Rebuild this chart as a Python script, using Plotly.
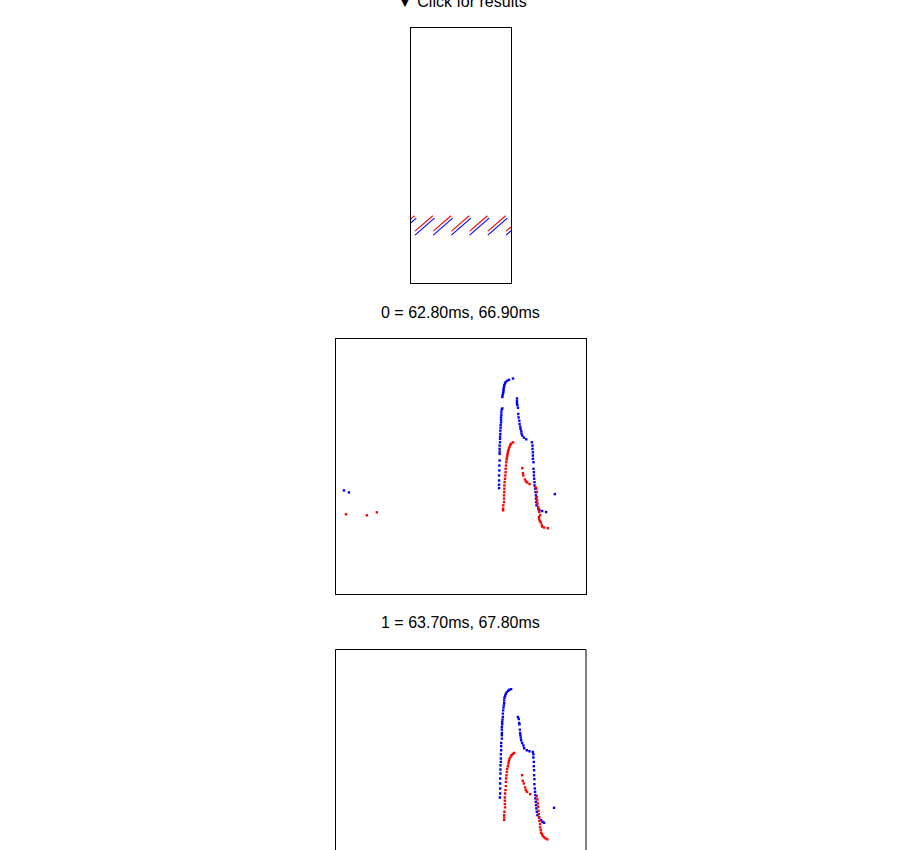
import plotly.graph_objects as go

W, H = 899, 850

# ---------- Panel 0 (top): diagonal stroke pairs ----------
stroke_starts = [-14.4, 4.0, 22.4, 40.8, 59.2, 77.6, 96.0]
red_stroke = {"y0": 52.0, "dx": 18.0, "dy": 15.5}
blue_stroke = {"y0": 48.0, "dx": 19.7, "dy": 17.2}

# ---------- Panel 1: "0 = 62.80ms, 66.90ms" ----------
p1_blue_x = [8, 13,
             177.7, 173.7, 171.7, 170.3, 169.7, 169, 168.7, 168.3, 168.3, 168, 167.7, 167.3, 167,
             167, 166.3, 166, 166, 165.7, 165.7, 165.7, 165.3, 165.3, 165, 165, 164.7, 164.7, 164.7,
             164.3, 164.3, 164.3, 164.3, 164.3, 164, 164, 163.7, 163.7, 163.7, 163.7,
             181.7, 181.7, 181.7, 182, 182.7, 183, 183.3, 184, 184.3, 185, 185.3, 186, 186.3, 187,
             188.7, 191, 196.7, 197.3, 197.3, 197.7, 197.7, 197.7, 198.3, 198.3, 198.7, 198.7, 199,
             199.3, 199.3, 200, 200.3, 200.7, 200.7, 201, 201.3, 203, 204.3, 207, 211,
             219.7]
p1_blue_y = [104, 102,
             216.3, 215, 214, 212.7, 211.3, 209.7, 208, 206.3, 204.7, 203, 201.3, 199.7, 197.7,
             186.3, 185, 182.3, 179.7, 177.3, 175, 172.3, 169.7, 167, 164, 160.7, 158, 155.7, 152.3,
             149, 145.7, 143, 140.7, 134, 129, 124, 119, 114, 109.7, 106.3,
             196.3, 194, 191.7, 189.7, 187, 180.7, 177.3, 174, 170.7, 168, 165.7, 163.3, 161, 159,
             157, 155.3, 152.3, 149, 145.7, 142.3, 139, 135.7, 132.3, 125.7, 122.3, 119, 115.7,
             112.3, 109, 105.7, 102.3, 99, 95.7, 92.3, 89, 85.7, 84.3, 83.3, 82.3,
             100.3]
p1_red_x = [10, 31, 41,
            177.7, 176, 175, 174.3, 173.7, 173, 172.7, 172.3, 172, 171.7, 171.3, 171, 170.7, 170.3,
            170.3, 170, 169.7, 169.3, 169, 169, 169, 168.7, 168.7, 168.7, 168, 167.7, 167.7,
            187, 187.7, 188, 189.7, 190.7, 192, 194.3, 200.3, 201, 201.7, 201.7, 202, 202.3, 203,
            203.3, 204, 205, 203.7, 204, 204.7, 205.7, 206.7, 207, 209, 212.7]
p1_red_y = [80, 79, 82,
            152.3, 151, 149.7, 148, 146.3, 144.3, 142.7, 140.7, 139, 137, 135, 132.3, 129, 125.7,
            122.3, 119, 115.7, 112.3, 109, 105.7, 102.3, 99, 95.7, 92.3, 89, 85.7, 84,
            126.3, 121.3, 119, 115, 113, 112, 110.3, 107.3, 105.7, 102.3, 97.3, 94, 90.7, 87.3,
            85, 82.3, 79, 77.3, 75, 73, 71.7, 69, 67.7, 66.7, 66]

# ---------- Panel 2: "1 = 63.70ms, 67.80ms" ----------
p2_blue_x = [176, 174.3, 173, 171.7, 170.7, 170, 169.3, 169, 169, 168.7, 168.3, 168, 167.7, 167.7,
             167.3, 167, 167, 166.7, 166.7, 166.7, 166.7, 166.7, 166, 166, 166, 165.7, 165.7, 165.7,
             165.3, 165.3, 165.3, 165, 165, 165, 165, 164.7,
             182.7, 183.7, 184, 184.3, 184.7, 185, 185.3, 185.7, 186, 187, 188.3, 189, 191.7, 194.3,
             197.7, 198.3, 198.3, 198.7, 198.7, 199, 199, 199.3, 199.3, 199.7, 200, 200.3, 200.3,
             200.7, 201, 201.3, 201.7, 202.3, 204, 206, 207.3, 209,
             219]
p2_blue_y = [216.3, 215.7, 214.7, 213.3, 211.7, 209.7, 207.7, 205, 202.3, 200, 197.7, 195, 191.7, 188.3,
             185.7, 183.3, 181, 178.3, 175.7, 172.3, 170, 166.7, 162.3, 159, 155, 151, 146.7, 143.3,
             140, 135.7, 131.7, 126.7, 121.7, 116.7, 111.7, 107.7,
             188.3, 186.3, 182.3, 181, 175.7, 172.3, 170, 167.7, 165, 162.3, 159.7, 157, 155, 154,
             153.3, 151, 147.7, 143.3, 139, 135, 130, 126, 121, 116.7, 113.3, 110, 106.7,
             103.3, 100, 96.7, 93.3, 90, 87.7, 85, 83.3, 82.3,
             97.3]
p2_red_x = [179, 177.7, 176.3, 175.3, 174.3, 173.7, 173.3, 172.7, 172, 171.7, 171.3, 171, 170.7, 170.7,
            170.3, 170, 169.7, 169.7, 169.7, 170, 169.3, 169, 169, 169,
            187, 187.7, 188.7, 190, 190.7, 192, 195, 201.7, 202.3, 202.7, 203, 203.3, 203.7, 204,
            204.3, 205, 205, 205.7, 206, 207, 207.7, 209, 210.3, 212.3]
p2_red_y = [152.3, 151.3, 150, 148.3, 146.3, 144, 141.7, 139, 136.3, 133.3, 130, 126.7, 123.3, 119,
            115, 111.7, 107.7, 104.3, 101, 97.7, 93.3, 90, 87.7, 85,
            130, 124.3, 121.7, 117.7, 115, 113.3, 111, 109, 105.7, 101.7, 98.3, 94.3, 91, 87.7,
            84.3, 81, 77.7, 75, 72.3, 71, 69, 67.7, 66.7, 65.7]

titles = ["0 = 62.80ms, 66.90ms", "1 = 63.70ms, 67.80ms"]
header = "▼ Click for results"

BLUE = "#0000ff"
RED = "#ff0000"
FONT = "Liberation Sans, Arial, sans-serif"

fig = go.Figure()

# top panel strokes
def stroke_arrays(spec):
    xs, ys = [], []
    for x0 in stroke_starts:
        xs += [x0, x0 + spec["dx"], None]
        ys += [spec["y0"], spec["y0"] + spec["dy"], None]
    return xs, ys

rx, ry = stroke_arrays(red_stroke)
bx, by = stroke_arrays(blue_stroke)
fig.add_trace(go.Scatter(x=rx, y=ry, mode="lines", line=dict(color=RED, width=1.1),
                         xaxis="x", yaxis="y", showlegend=False, hoverinfo="skip"))
fig.add_trace(go.Scatter(x=bx, y=by, mode="lines", line=dict(color=BLUE, width=1.1),
                         xaxis="x", yaxis="y", showlegend=False, hoverinfo="skip"))

mk = dict(symbol="square", size=2.4, line=dict(width=0))
for (xs, ys, c, ax) in [(p1_blue_x, p1_blue_y, BLUE, "2"), (p1_red_x, p1_red_y, RED, "2"),
                        (p2_blue_x, p2_blue_y, BLUE, "3"), (p2_red_x, p2_red_y, RED, "3")]:
    fig.add_trace(go.Scatter(x=xs, y=ys, mode="markers", marker=dict(color=c, **mk),
                             xaxis="x" + ax, yaxis="y" + ax, showlegend=False, cliponaxis=True))

def ax_common(**kw):
    d = dict(showgrid=False, zeroline=False, showticklabels=False, ticks="",
             fixedrange=True)
    d.update(kw)
    return d

frame = dict(showline=True, linecolor="black", linewidth=1, mirror=True)

fig.update_layout(
    width=W, height=H,
    margin=dict(l=0, r=0, t=0, b=0),
    paper_bgcolor="white", plot_bgcolor="white",
    xaxis=ax_common(domain=[411 / W, 511 / W], range=[0, 101], anchor="y", **frame),
    yaxis=ax_common(domain=[1 - 283 / H, 1 - 28 / H], range=[0, 256], anchor="x", **frame),
    xaxis2=ax_common(domain=[336 / W, 586 / W], range=[0, 251], anchor="y2", **frame),
    yaxis2=ax_common(domain=[1 - 594 / H, 1 - 339 / H], range=[0, 256], anchor="x2", **frame),
    xaxis3=ax_common(domain=[335.5 / W, 586 / W], range=[0, 251], anchor="y3"),
    yaxis3=ax_common(domain=[0, 1 - 649.5 / H], range=[55, 256], anchor="x3"),
    shapes=[
        dict(type="line", xref="x3 domain", yref="y3 domain", x0=0, x1=0, y0=0, y1=1,
             line=dict(color="black", width=1)),
        dict(type="line", xref="x3 domain", yref="y3 domain", x0=1, x1=1, y0=0, y1=1,
             line=dict(color="black", width=1)),
        dict(type="line", xref="x3 domain", yref="y3 domain", x0=0, x1=1, y0=1, y1=1,
             line=dict(color="black", width=1)),
    ],
    annotations=[
        dict(text=header, x=461.5 / W, y=1 - 1.5 / H, xref="paper", yref="paper",
             showarrow=False, xanchor="center", yanchor="middle",
             font=dict(family=FONT, size=16, color="black")),
        dict(text=titles[0], x=460.5 / W, y=1 - 312 / H, xref="paper", yref="paper",
             showarrow=False, xanchor="center", yanchor="middle",
             font=dict(family=FONT, size=16, color="black")),
        dict(text=titles[1], x=460.5 / W, y=1 - 622.7 / H, xref="paper", yref="paper",
             showarrow=False, xanchor="center", yanchor="middle",
             font=dict(family=FONT, size=16, color="black")),
    ],
)

fig.write_html("out.html", config={"displayModeBar": False})
